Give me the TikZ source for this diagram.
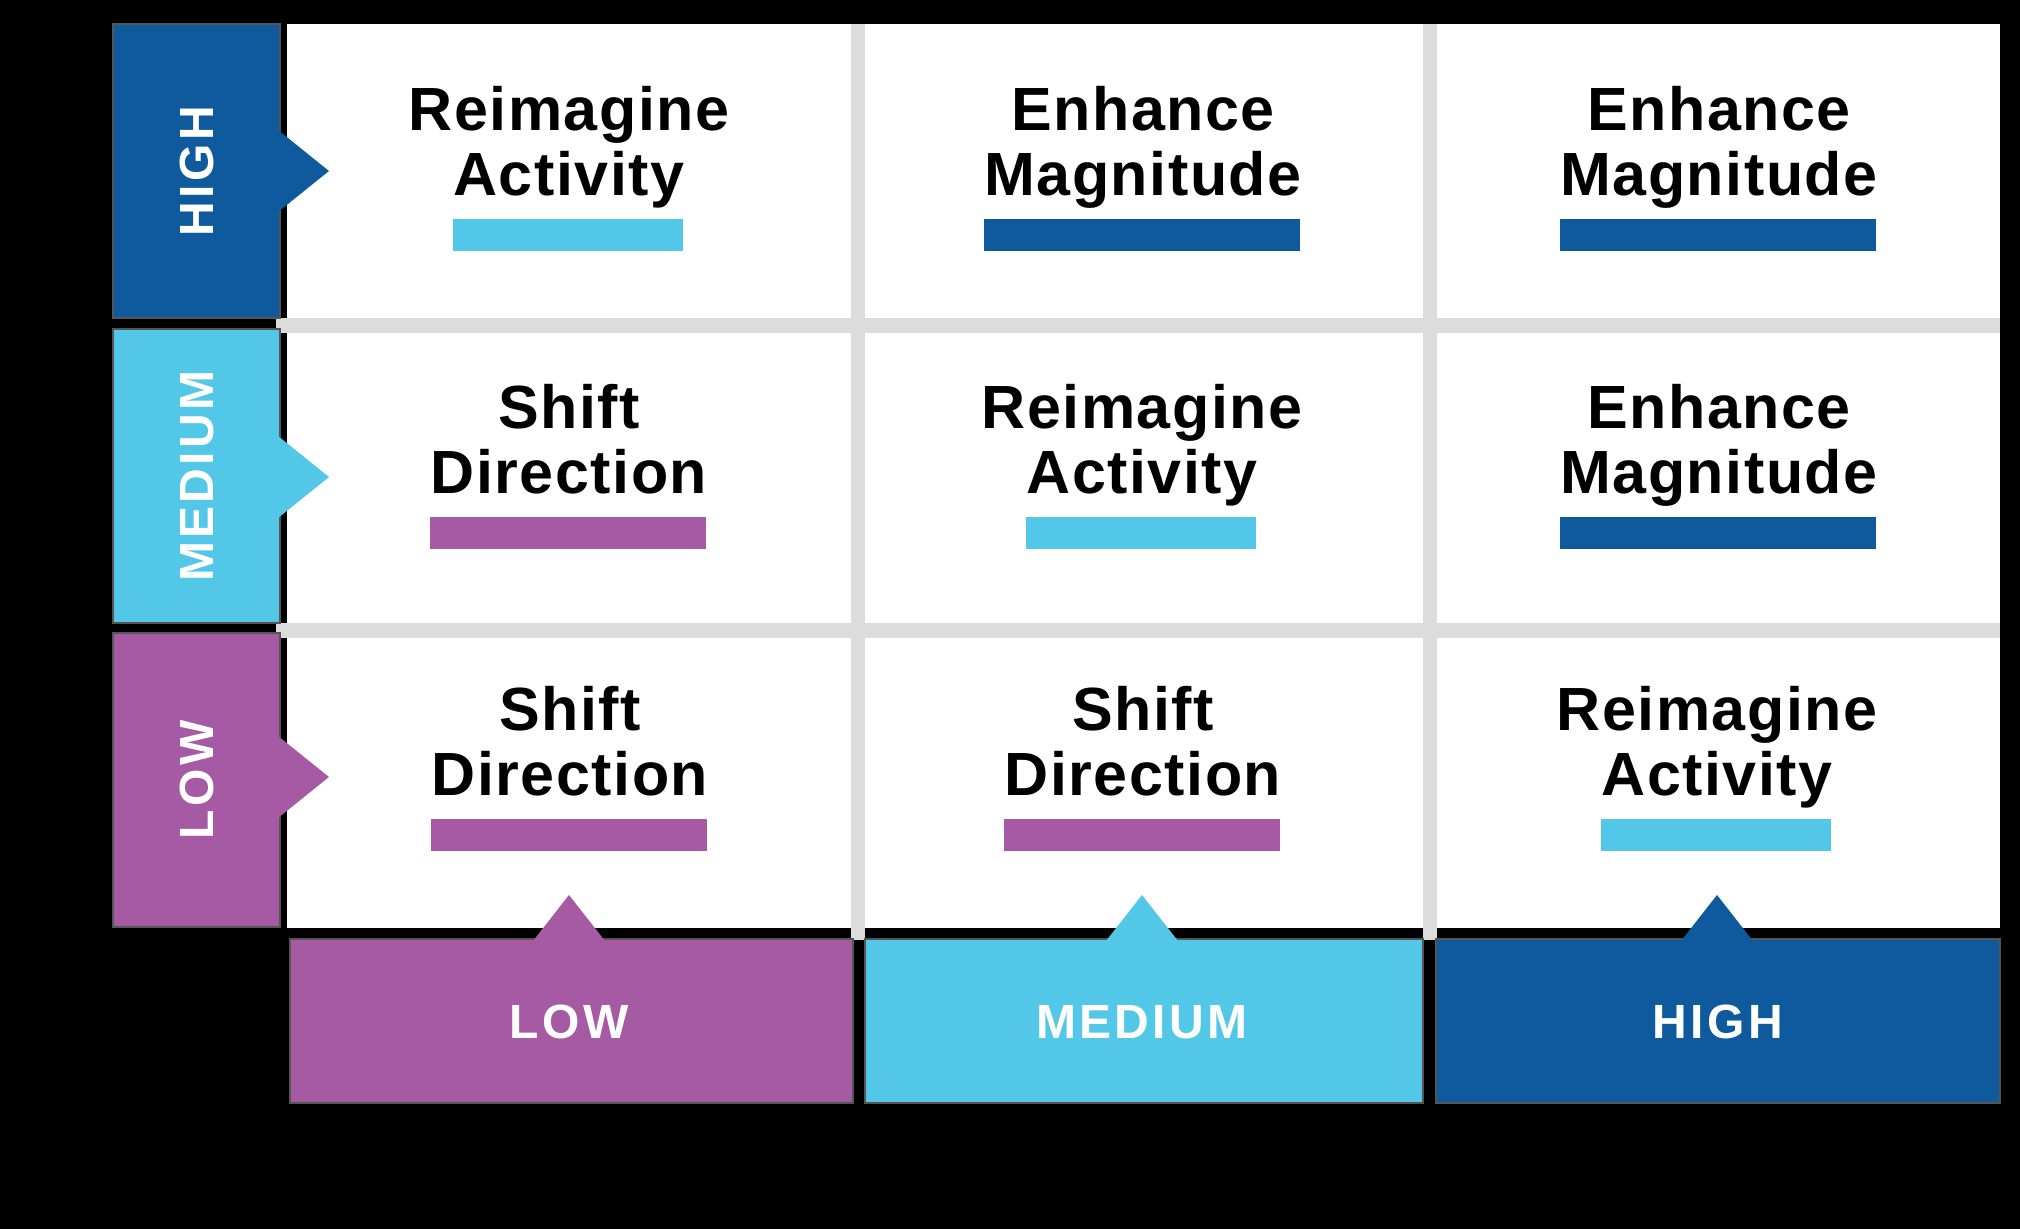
\documentclass[tikz,border=0pt]{standalone}
\usepackage{fontspec}
\setmainfont{Liberation Sans}
\newfontfamily\axisfont{Liberation Sans}[LetterSpace=7]
\newfontfamily\cellfont{Liberation Sans}[LetterSpace=2.5]
\usetikzlibrary{calc}

\definecolor{dblue}{HTML}{0E5A9C}
\definecolor{lblue}{HTML}{52C7E8}
\definecolor{purp}{HTML}{A65AA4}
\definecolor{gridgray}{HTML}{DCDCDC}
\definecolor{edgegray}{HTML}{555555}

\tikzset{
  celltext/.style={inner sep=0pt, font=\cellfont\fontsize{30.5pt}{32pt}\selectfont\bfseries, text=black},
  axislabel/.style={inner sep=0pt, font=\axisfont\fontsize{24pt}{26pt}\selectfont\bfseries, text=white},
  axisbox/.style={draw=edgegray, line width=1pt},
}

% one cell of the matrix: two lines of text and a colour bar as wide as line two
\newcommand{\matrixcell}[6]{%
  \node[celltext, anchor=base] (#6-b) at (#1,#2) {#4};
  \node[celltext, anchor=base] (#6-a) at (#1,#2-65) {#3};
  \fill[#5] ($(#6-b.base west)+(0,23)$) rectangle ($(#6-b.base east)+(-2,55)$);
}

\begin{document}
\begin{tikzpicture}[x=0.5pt,y=-0.5pt]
  % background
  \fill[black] (0,0) rectangle (2020,1229);
  \useasboundingbox (0,0) rectangle (2020,1229);

  % white matrix area and grey grid lines
  \fill[white] (287,24) rectangle (2000,928);
  \fill[gridgray] (851,24) rectangle (865,940);
  \fill[gridgray] (1423,24) rectangle (1437,940);
  \fill[gridgray] (276,318) rectangle (2000,333);
  \fill[gridgray] (276,623) rectangle (2000,638);

  % vertical axis boxes
  \path[axisbox, fill=dblue] (113,24) rectangle (280,318);
  \path[axisbox, fill=lblue] (113,329) rectangle (280,623);
  \path[axisbox, fill=purp]  (113,633) rectangle (280,927);
  \fill[dblue] (278,130) -- (329,171) -- (278,212) -- cycle;
  \fill[lblue] (278,436) -- (329,477) -- (278,518) -- cycle;
  \fill[purp]  (278,736) -- (329,777) -- (278,818) -- cycle;
  \node[axislabel, rotate=90] (vhigh) at (197,171) {HIGH};
  \node[axislabel, rotate=90] (vmed)  at (197,476) {MEDIUM};
  \node[axislabel, rotate=90] (vlow)  at (197,780) {LOW};

  % horizontal axis boxes
  \path[axisbox, fill=purp]  (290,939) rectangle (853,1103);
  \path[axisbox, fill=lblue] (865,939) rectangle (1423,1103);
  \path[axisbox, fill=dblue] (1436,939) rectangle (2000,1103);
  \fill[purp]  (533,941) -- (569,895) -- (605,941) -- cycle;
  \fill[lblue] (1106,941) -- (1142,895) -- (1178,941) -- cycle;
  \fill[dblue] (1681,941) -- (1717,895) -- (1753,941) -- cycle;
  \node[axislabel] (hlow)  at (569,1022)  {LOW};
  \node[axislabel] (hmed)  at (1142,1022) {MEDIUM};
  \node[axislabel] (hhigh) at (1718,1022) {HIGH};

  % matrix cells
  \matrixcell{569}{196}{Reimagine}{Activity}{lblue}{c11}
  \matrixcell{1143}{196}{Enhance}{Magnitude}{dblue}{c12}
  \matrixcell{1719}{196}{Enhance}{Magnitude}{dblue}{c13}
  \matrixcell{569}{494}{Shift}{Direction}{purp}{c21}
  \matrixcell{1142}{494}{Reimagine}{Activity}{lblue}{c22}
  \matrixcell{1719}{494}{Enhance}{Magnitude}{dblue}{c23}
  \matrixcell{570}{796}{Shift}{Direction}{purp}{c31}
  \matrixcell{1143}{796}{Shift}{Direction}{purp}{c32}
  \matrixcell{1717}{796}{Reimagine}{Activity}{lblue}{c33}
\end{tikzpicture}
\end{document}
